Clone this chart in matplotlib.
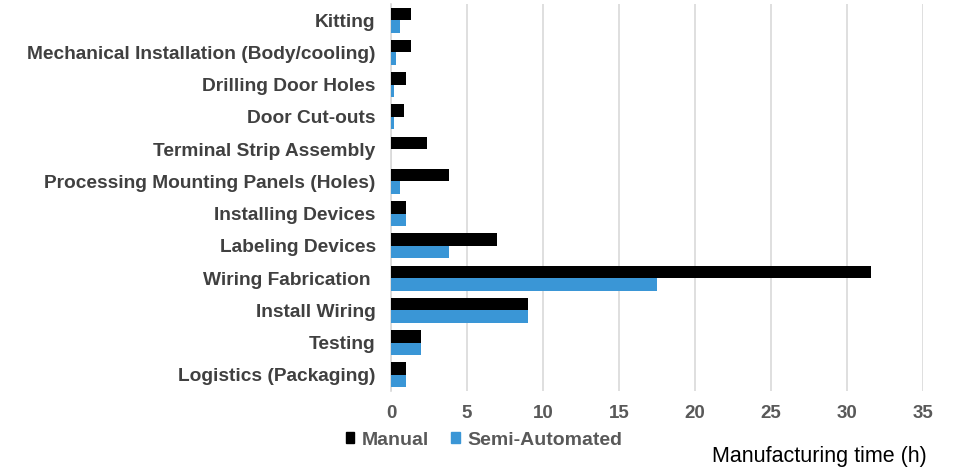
import matplotlib
matplotlib.use("Agg")
import matplotlib.pyplot as plt
import numpy as np
from matplotlib.patches import Patch

categories = ["Kitting", "Mechanical Installation (Body/cooling)", "Drilling Door Holes",
              "Door Cut-outs", "Terminal Strip Assembly", "Processing Mounting Panels (Holes)",
              "Installing Devices", "Labeling Devices", "Wiring Fabrication ", "Install Wiring",
              "Testing", "Logistics (Packaging)"]
manual = [1.3, 1.3, 1.0, 0.85, 2.4, 3.8, 1.0, 7.0, 31.6, 9.0, 2.0, 1.0]
semi = [0.6, 0.3, 0.2, 0.2, 0.0, 0.6, 1.0, 3.8, 17.5, 9.0, 2.0, 1.0]
xticks = [0, 5, 10, 15, 20, 25, 30, 35]

plt.rcParams['font.family'] = ['Liberation Sans', 'DejaVu Sans']

fig = plt.figure(figsize=(9.55, 4.69), dpi=100)
ax = fig.add_axes([391/955, 1 - 391/469, (923-391)/955, (391-4)/469])

y = np.arange(len(categories))
h = 0.39
ax.barh(y - h/2, manual, height=h, color="#000000", zorder=3)
ax.barh(y + h/2, semi, height=h, color="#3a96d6", zorder=3)

ax.set_ylim(len(categories) - 0.5, -0.5)
ax.set_xlim(0, 35)
ax.set_yticks(y)
ax.set_yticklabels(categories, fontsize=13.8, fontweight="bold", color="#404040")
ax.set_xticks(xticks)
ax.set_xticklabels([str(t) for t in xticks], fontsize=13.5, fontweight="bold", color="#595959")
ax.tick_params(axis="x", length=0, pad=10)
ax.tick_params(axis="y", length=0, pad=11)
ax.grid(axis="x", color="#d9d9d9", linewidth=1.2, zorder=0)
for s in ["top", "right", "bottom"]:
    ax.spines[s].set_visible(False)
ax.spines["left"].set_color("#d9d9d9")
ax.spines["left"].set_linewidth(1.2)

handles = [Patch(color="#000000", label="Manual"), Patch(color="#3a96d6", label="Semi-Automated")]
leg = fig.legend(handles=handles, loc="center", bbox_to_anchor=(484/955, 1 - 440/469), ncol=2,
                 frameon=False, handlelength=0.45, handleheight=0.45, handletextpad=0.4,
                 columnspacing=1.1, prop={"weight": "bold", "size": 14})
for t in leg.get_texts():
    t.set_color("#595959")

fig.text(819/955, 1 - 456/469, "Manufacturing time (h)", fontsize=15.5, ha="center", va="center",
         color="#000000")

fig.savefig("out.png", dpi=100)
